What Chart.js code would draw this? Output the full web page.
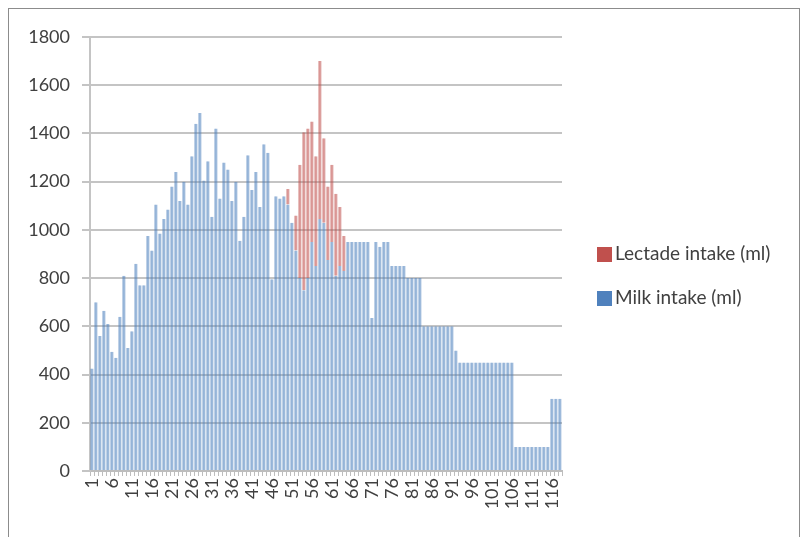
<!DOCTYPE html>
<html>
<head>
<meta charset="utf-8">
<script src="https://cdn.jsdelivr.net/npm/chart.js@4"></script>
<style>
  html, body { margin: 0; padding: 0; background: #fff; }
  #wrap { position: relative; width: 805px; height: 537px; overflow: hidden; }
  #frame { position: absolute; left: 8px; top: 8px; width: 792px; height: 540px; border: 1px solid #8c8c8c; box-sizing: border-box; }
  #chart { position: absolute; left: 0; top: 0; }
  .legend { position: absolute; left: 597px; font-family: Lato, "Open Sans", sans-serif; font-size: 19px; color: #404040; line-height: 20px; }
  .legend span { display: inline-block; width: 15px; height: 15px; margin-right: 3px; vertical-align: -2px; }
</style>
</head>
<body>
<div id="wrap">
  <div id="frame"></div>
  <canvas id="chart" width="805" height="537"></canvas>
  <div class="legend" style="top:243px"><span style="background:#c0504d"></span>Lectade intake (ml)</div>
  <div class="legend" style="top:287px"><span style="background:#4f81bd"></span>Milk intake (ml)</div>
</div>
<script>
// Day numbers 1..118
const days = [];
for (let d = 1; d <= 118; d++) days.push(String(d));

// Milk intake (ml)
const milk = [
  425, 700, 560, 665, 610, 495, 470, 640, 810, 510,
  580, 860, 770, 770, 975, 915, 1105, 985, 1045, 1085,
  1180, 1240, 1120, 1200, 1105, 1305, 1440, 1485, 1205, 1285,
  1055, 1420, 1130, 1280, 1250, 1120, 1200, 955, 1055, 1310,
  1165, 1240, 1095, 1355, 1320, 795, 1140, 1130, 1140, 1105,
  1030, 915, 800, 750, 800, 950, 850, 1045, 1030, 875,
  950, 810, 850, 830, 950, 950, 950, 950, 950, 950,
  635, 950, 930, 950, 950, 850, 850, 850, 850, 800,
  800, 800, 800, 600, 600, 600, 600, 600, 600, 600,
  600, 500, 450, 450, 450, 450, 450, 450, 450, 450,
  450, 450, 450, 450, 450, 450, 100, 100, 100, 100,
  100, 100, 100, 100, 100, 300, 300, 300
];

// Lectade intake (ml), stacked on top of milk
const lectade = [
  0, 0, 0, 0, 0, 0, 0, 0, 0, 0,
  0, 0, 0, 0, 0, 0, 0, 0, 0, 0,
  0, 0, 0, 0, 0, 0, 0, 0, 0, 0,
  0, 0, 0, 0, 0, 0, 0, 0, 0, 0,
  0, 0, 0, 0, 0, 0, 0, 0, 0, 65,
  0, 145, 470, 655, 620, 500, 455, 655, 350, 305,
  320, 340, 245, 145, 0, 0, 0, 0, 0, 0,
  0, 0, 0, 0, 0, 0, 0, 0, 0, 0,
  0, 0, 0, 0, 0, 0, 0, 0, 0, 0,
  0, 0, 0, 0, 0, 0, 0, 0, 0, 0,
  0, 0, 0, 0, 0, 0, 0, 0, 0, 0,
  0, 0, 0, 0, 0, 0, 0, 0
];

const yTicks = [0, 200, 400, 600, 800, 1000, 1200, 1400, 1600, 1800];

const font = { family: 'Lato, "Open Sans", sans-serif', size: 18 };

new Chart(document.getElementById('chart'), {
  type: 'bar',
  data: {
    labels: days,
    datasets: [
      {
        label: 'Milk intake (ml)',
        data: milk,
        backgroundColor: 'rgba(79, 129, 189, 0.55)',
        borderColor: '#4f81bd',
        borderWidth: { left: 1, right: 0, top: 0, bottom: 0 },
        borderSkipped: false,
        barPercentage: 0.8,
        categoryPercentage: 1
      },
      {
        label: 'Lectade intake (ml)',
        data: lectade,
        backgroundColor: 'rgba(192, 80, 77, 0.55)',
        borderColor: '#c0504d',
        borderWidth: { left: 1, right: 0, top: 0, bottom: 0 },
        borderSkipped: false,
        barPercentage: 0.8,
        categoryPercentage: 1
      }
    ]
  },
  options: {
    responsive: false,
    animation: false,
    layout: { padding: { left: 0, right: 243, top: 37, bottom: 0 } },
    plugins: { legend: { display: false }, tooltip: { enabled: false } },
    scales: {
      x: {
        stacked: true,
        afterFit: s => { s.height = 66; },
        grid: { drawOnChartArea: false, drawTicks: true, tickLength: 5, color: '#bdbdbd', offset: true },
        border: { color: '#bdbdbd', width: 2 },
        ticks: {
          autoSkip: false,
          minRotation: 90,
          maxRotation: 90,
          padding: 2,
          color: '#404040',
          font: font,
          callback: (v, i) => (i % 5 === 0 ? days[i] : '')
        }
      },
      y: {
        stacked: true,
        min: 0,
        max: 1800,
        afterFit: s => { s.width = 90; },
        afterBuildTicks: s => { s.ticks = yTicks.map(v => ({ value: v })); },
        grid: { color: '#c4c4c4', lineWidth: 2, tickLength: 8 },
        border: { color: '#c4c4c4', width: 2 },
        ticks: { color: '#404040', font: font, padding: 12, callback: v => String(v) }
      }
    }
  }
});
</script>
</body>
</html>
